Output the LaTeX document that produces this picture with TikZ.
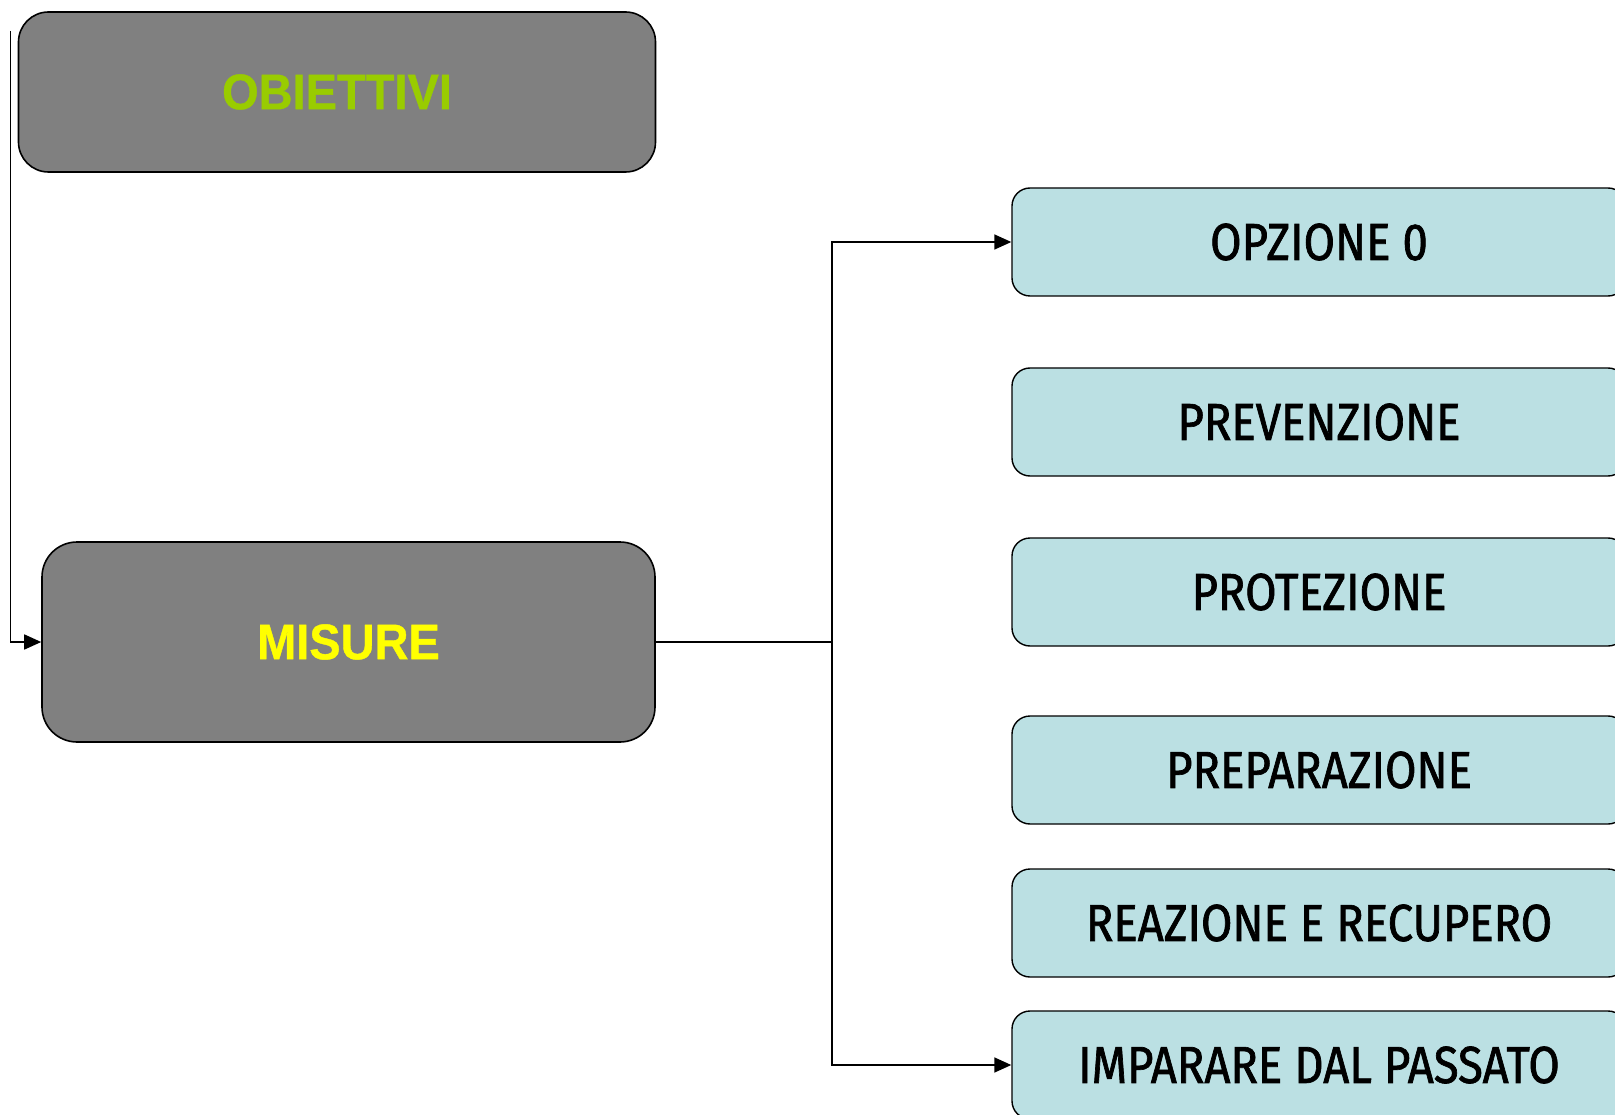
\documentclass[tikz,border=0pt]{standalone}
\usepackage{fontspec}
\newfontfamily\arialn[FakeStretch=0.94,FakeBold=0.8]{Liberation Sans}
\newfontfamily\condf[FakeStretch=0.875,FakeBold=1.3]{Fira Sans}
\usetikzlibrary{arrows.meta}
\definecolor{boxgray}{HTML}{808080}
\definecolor{lgreen}{HTML}{99CC00}
\definecolor{lyellow}{HTML}{FFFF00}
\definecolor{lblue}{HTML}{BBE0E3}
\begin{document}
\begin{tikzpicture}[x=1pt,y=-1pt,
  graybox/.style={draw=black, line width=1.6pt, fill=boxgray, inner sep=0pt,
    font=\arialn\bfseries\fontsize{50}{60}\selectfont},
  bluebox/.style={draw=black, line width=1.4pt, fill=lblue, rounded corners=18pt,
    minimum width=614pt, minimum height=108pt, inner sep=0pt,
    font=\condf\fontsize{52}{62}\selectfont, text=black},
  conn/.style={draw=black, line width=1.6pt},
  arr/.style={conn, -{Triangle[length=17pt,width=15pt]}}]
\useasboundingbox (0,0) rectangle (1615,1115);
\node[graybox, rounded corners=30pt, minimum width=637pt, minimum height=160pt, text=lgreen] (obi) at (337,92) {OBIETTIVI};
\node[graybox, rounded corners=35pt, minimum width=613pt, minimum height=200pt, text=lyellow] (mis) at (348.5,642) {MISURE};
\node[bluebox] (o0) at (1319,242) {OPZIONE 0};
\node[bluebox] (prev) at (1319,422) {PREVENZIONE};
\node[bluebox] (prot) at (1319,592) {PROTEZIONE};
\node[bluebox] (prep) at (1319,770) {PREPARAZIONE};
\node[bluebox] (rea) at (1319,923) {REAZIONE E RECUPERO};
\node[bluebox] (imp) at (1319,1065) {IMPARARE DAL PASSATO};
\coordinate (s) at (10.5,31);
\coordinate (j) at (832,642);
\draw[arr] (s) |- (mis.west);
\draw[conn] (mis.east) -- (j);
\draw[arr] (j) |- (o0.west);
\draw[arr] (j) |- (imp.west);
\end{tikzpicture}
\end{document}
